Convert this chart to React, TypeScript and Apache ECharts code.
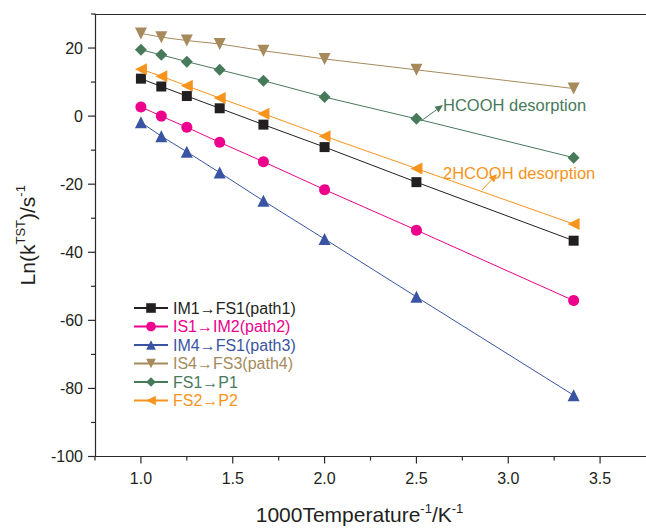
import React, { useEffect, useRef } from 'react';
import * as echarts from 'echarts';

const xValues = [1.0, 1.111, 1.25, 1.429, 1.667, 2.0, 2.5, 3.356];
const seriesNames = ['IM1→FS1(path1)', 'IS1→IM2(path2)', 'IM4→FS1(path3)', 'IS4→FS3(path4)', 'FS1→P1', 'FS2→P2'];
const path1 = [11.0, 8.7, 5.9, 2.3, -2.5, -9.1, -19.4, -36.6];
const path2 = [2.7, 0.0, -3.3, -7.7, -13.4, -21.6, -33.5, -54.2];
const path3 = [-1.8, -5.9, -10.5, -16.6, -24.9, -36.1, -53.1, -82.0];
const path4 = [24.3, 23.2, 22.2, 21.2, 19.2, 16.8, 13.6, 8.1];
const fs1p1 = [19.5, 18.0, 16.0, 13.6, 10.4, 5.6, -0.8, -12.2];
const fs2p2 = [13.8, 11.7, 8.9, 5.3, 0.7, -5.9, -15.4, -31.7];
const annotationTexts = ['HCOOH desorption', '2HCOOH desorption'];

const xMajorTicks = [1.0, 1.5, 2.0, 2.5, 3.0, 3.5];
const xMinorTicks = [0.75, 1.25, 1.75, 2.25, 2.75, 3.25];
const yMajorTicks = [-100, -80, -60, -40, -20, 0, 20];
const yMinorTicks = [-90, -70, -50, -30, -10, 10, 30];

const colors = ['#231f20', '#ec008c', '#3a54a4', '#a68a5b', '#477a5b', '#f7941d'];
const symbols = ['rect', 'circle', 'triangle', 'triangle', 'diamond', 'triangle'];
const symbolRotates = [0, 0, 0, 180, 0, 90];
const symbolSizes = [10, 11, 12, 12, 12, 12];
const allData = [path1, path2, path3, path4, fs1p1, fs2p2];

const FONT = 'Arial, "Liberation Sans", sans-serif';
const AXIS_COLOR = '#2a2a2a';
const X_MIN = 0.75, X_MAX = 3.75, Y_MIN = -100, Y_MAX = 30;

export default function App() {
  const ref = useRef<HTMLDivElement>(null);
  useEffect(() => {
    if (!ref.current) return;
    const chart = echarts.init(ref.current, null, { renderer: 'svg' });
    const series: any[] = allData.map((d, i) => ({
      name: seriesNames[i],
      type: 'line',
      data: d.map((v, j) => [xValues[j], v]),
      symbol: symbols[i],
      symbolSize: symbolSizes[i],
      symbolRotate: symbolRotates[i],
      lineStyle: { color: colors[i], width: 1 },
      itemStyle: { color: colors[i] },
      z: 3,
    }));
    const arrow = (x1: number, y1: number, x2: number, y2: number, color: string) => {
      const ang = Math.atan2(y2 - y1, x2 - x1);
      const L = 8, W = 3.5;
      const bx = x2 - L * Math.cos(ang), by = y2 - L * Math.sin(ang);
      const px = -Math.sin(ang) * W, py = Math.cos(ang) * W;
      return [
        { type: 'line', shape: { x1, y1, x2: bx, y2: by }, style: { stroke: color, lineWidth: 1 } },
        { type: 'polygon', shape: { points: [[x2, y2], [bx + px, by + py], [bx - px, by - py]] }, style: { fill: color } },
      ];
    };
    const nameRich = {
      b: { fontSize: 21, lineHeight: 26, fontFamily: FONT, color: '#231f20' },
      s: { fontSize: 13, lineHeight: 26, verticalAlign: 'top', fontFamily: FONT, color: '#231f20' },
    };
    const annotations = [
      ...arrow(421, 121, 443, 105, colors[4]),
      { type: 'text', x: 443, y: 105, style: { text: annotationTexts[0], fill: colors[4], fontSize: 16.5, fontFamily: FONT, verticalAlign: 'middle', align: 'left' } },
      ...arrow(482, 190, 497, 174, colors[5]),
      { type: 'text', x: 443, y: 173, style: { text: annotationTexts[1], fill: colors[5], fontSize: 16.5, fontFamily: FONT, verticalAlign: 'middle', align: 'left' } },
    ];
    chart.setOption({
      animation: false,
      textStyle: { fontFamily: FONT },
      grid: { left: 95, right: 0, top: 14, bottom: 72, show: false },
      legend: {
        orient: 'vertical',
        left: 128,
        top: 295,
        itemWidth: 34,
        itemHeight: 12,
        itemGap: 2.5,
        textStyle: { fontSize: 16, fontFamily: FONT },
        data: seriesNames.map((n, i) => ({ name: n, textStyle: { color: colors[i] } })),
      },
      xAxis: [
        {
          type: 'value', min: X_MIN, max: X_MAX, splitNumber: 6, position: 'bottom',
          axisLine: { show: true, onZero: false, lineStyle: { color: AXIS_COLOR, width: 1.2 } },
          axisTick: { show: false },
          axisLabel: { showMinLabel: false, showMaxLabel: false, fontSize: 16, color: '#231f20', margin: 14, formatter: (v: number) => v.toFixed(1) },
          splitLine: { show: false },
          name: '{b|1000Temperature}{s|-1}{b|/K}{s|-1}',
          nameLocation: 'middle', nameGap: 45,
          nameTextStyle: { color: '#231f20', rich: nameRich, padding: [0, 22, 0, 0] },
        },
        {
          type: 'value', min: X_MIN, max: X_MAX, position: 'top',
          axisLine: { show: true, onZero: false, lineStyle: { color: AXIS_COLOR, width: 1.2 } },
          axisTick: { show: false },
          axisLabel: { show: false },
          splitLine: { show: false },
        },
      ],
      yAxis: [
        {
          type: 'value', min: Y_MIN, max: Y_MAX, interval: 20,
          axisLine: { show: true, onZero: false, lineStyle: { color: AXIS_COLOR, width: 1.2 } },
          axisTick: { show: false },
          axisLabel: { showMaxLabel: false, fontSize: 16, color: '#231f20', margin: 12 },
          splitLine: { show: false },
          name: '{b|Ln(k}{s|TST}{b|)/s}{s|-1}',
          nameLocation: 'middle', nameGap: 55, nameRotate: 90,
          nameTextStyle: { color: '#231f20', rich: nameRich },
        },
      ],
      series,
      graphic: annotations,
    });
    // axis ticks, positioned through the chart's own scales
    const toPx = (x: number, y: number) => chart.convertToPixel({ gridIndex: 0 }, [x, y]) as number[];
    const tickLines: any[] = [];
    const addX = (vals: number[], len: number) => vals.forEach((v) => {
      const p = toPx(v, Y_MIN);
      tickLines.push({ type: 'line', silent: true, z: 10, shape: { x1: p[0], y1: p[1], x2: p[0], y2: p[1] + len }, style: { stroke: AXIS_COLOR, lineWidth: 1.2 } });
    });
    const addY = (vals: number[], len: number) => vals.forEach((v) => {
      const p = toPx(X_MIN, v);
      tickLines.push({ type: 'line', silent: true, z: 10, shape: { x1: p[0], y1: p[1], x2: p[0] - len, y2: p[1] }, style: { stroke: AXIS_COLOR, lineWidth: 1.2 } });
    });
    addX(xMajorTicks, 7);
    addX(xMinorTicks, 4);
    addY(yMajorTicks, 7);
    addY(yMinorTicks, 4);
    chart.setOption({ graphic: [...annotations, ...tickLines] });
    return () => chart.dispose();
  }, []);
  return <div ref={ref} style={{ width: 646, height: 530, position: 'absolute', left: 0, top: 0 }} />;
}
